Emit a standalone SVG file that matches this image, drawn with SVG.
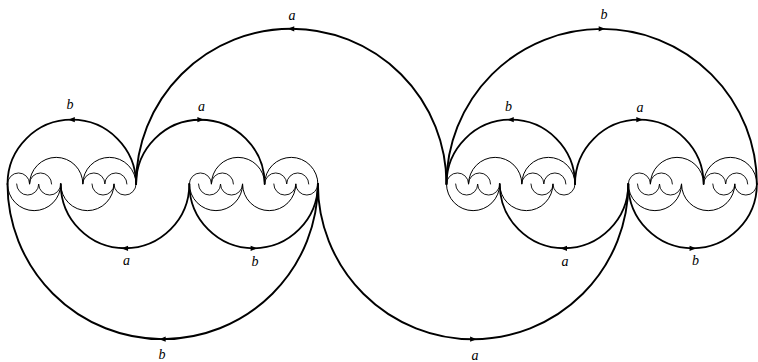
<svg xmlns="http://www.w3.org/2000/svg" width="758" height="362" viewBox="0 0 758 362">
<style>
.arc{fill:none;stroke:#000;stroke-linecap:round}
.k0{stroke-width:1.9}
.k1{stroke-width:1.8}
.k2{stroke-width:1}
.k3{stroke-width:0.9}
.tip{fill:#000;stroke:none}
.lbl{font-family:"Liberation Serif","DejaVu Serif",serif;font-style:italic;font-size:14px;fill:#000;text-anchor:middle}
</style>
<rect width="758" height="362" fill="#fff"/>
<g id="connectors">
<g id="level0" class="arc k0">
<path d="M7.5 184a155.2 155.2 0 0 0 310.4 0"/>
<path d="M317.9 184a155.2 155.2 0 0 0 310.4 0"/>
<path d="M136.07 184a155.2 155.2 0 0 1 310.4 0"/>
<path d="M446.47 184a155.2 155.2 0 0 1 310.4 0"/>
</g>
<g id="level1" class="arc k1">
<path d="M7.5 184a64.285 64.285 0 0 1 128.57 0"/>
<path d="M136.07 184a64.285 64.285 0 0 1 128.57 0"/>
<path d="M60.76 184a64.285 64.285 0 0 0 128.57 0"/>
<path d="M189.33 184a64.285 64.285 0 0 0 128.57 0"/>
<path d="M446.47 184a64.285 64.285 0 0 1 128.57 0"/>
<path d="M575.04 184a64.285 64.285 0 0 1 128.57 0"/>
<path d="M499.73 184a64.285 64.285 0 0 0 128.57 0"/>
<path d="M628.3 184a64.285 64.285 0 0 0 128.57 0"/>
</g>
<g id="level2" class="arc k2">
<path d="M7.5 184a26.63 26.63 0 0 0 53.26 0a26.63 26.63 0 0 0 53.26 0"/>
<path d="M29.56 184a26.63 26.63 0 0 1 53.26 0a26.63 26.63 0 0 1 53.26 0"/>
<path d="M189.33 184a26.63 26.63 0 0 0 53.26 0a26.63 26.63 0 0 0 53.26 0"/>
<path d="M211.39 184a26.63 26.63 0 0 1 53.26 0a26.63 26.63 0 0 1 53.26 0"/>
<path d="M446.47 184a26.63 26.63 0 0 0 53.26 0a26.63 26.63 0 0 0 53.26 0"/>
<path d="M468.53 184a26.63 26.63 0 0 1 53.26 0a26.63 26.63 0 0 1 53.26 0"/>
<path d="M628.3 184a26.63 26.63 0 0 0 53.26 0a26.63 26.63 0 0 0 53.26 0"/>
<path d="M650.36 184a26.63 26.63 0 0 1 53.26 0a26.63 26.63 0 0 1 53.26 0"/>
</g>
<g id="level3" class="arc k3">
<path d="M7.5 184a11.03 11.03 0 0 1 22.06 0a11.03 11.03 0 0 1 22.06 0M16.64 184a11.03 11.03 0 0 0 22.06 0a11.03 11.03 0 0 0 22.06 0"/>
<path d="M82.82 184a11.03 11.03 0 0 1 22.06 0a11.03 11.03 0 0 1 22.06 0M91.96 184a11.03 11.03 0 0 0 22.06 0a11.03 11.03 0 0 0 22.06 0"/>
<path d="M189.33 184a11.03 11.03 0 0 1 22.06 0a11.03 11.03 0 0 1 22.06 0M198.47 184a11.03 11.03 0 0 0 22.06 0a11.03 11.03 0 0 0 22.06 0"/>
<path d="M264.65 184a11.03 11.03 0 0 1 22.06 0a11.03 11.03 0 0 1 22.06 0M273.79 184a11.03 11.03 0 0 0 22.06 0a11.03 11.03 0 0 0 22.06 0"/>
<path d="M446.47 184a11.03 11.03 0 0 1 22.06 0a11.03 11.03 0 0 1 22.06 0M455.61 184a11.03 11.03 0 0 0 22.06 0a11.03 11.03 0 0 0 22.06 0"/>
<path d="M521.79 184a11.03 11.03 0 0 1 22.06 0a11.03 11.03 0 0 1 22.06 0M530.93 184a11.03 11.03 0 0 0 22.06 0a11.03 11.03 0 0 0 22.06 0"/>
<path d="M628.3 184a11.03 11.03 0 0 1 22.06 0a11.03 11.03 0 0 1 22.06 0M637.44 184a11.03 11.03 0 0 0 22.06 0a11.03 11.03 0 0 0 22.06 0"/>
<path d="M703.62 184a11.03 11.03 0 0 1 22.06 0a11.03 11.03 0 0 1 22.06 0M712.76 184a11.03 11.03 0 0 0 22.06 0a11.03 11.03 0 0 0 22.06 0"/>
</g>
<g id="arrowheads" class="tip">
<path d="M287.77 28.8l6.5 -2.6v5.2z"/>
<path d="M605.17 28.8l-6.5 -2.6v5.2z"/>
<path d="M159.2 339.2l6.5 -2.6v5.2z"/>
<path d="M476.6 339.2l-6.5 -2.6v5.2z"/>
<path d="M68.29 119.7l6.5 -2.6v5.2z"/>
<path d="M203.86 119.7l-6.5 -2.6v5.2z"/>
<path d="M121.55 248.3l6.5 -2.6v5.2z"/>
<path d="M257.12 248.3l-6.5 -2.6v5.2z"/>
<path d="M507.26 119.7l6.5 -2.6v5.2z"/>
<path d="M642.83 119.7l-6.5 -2.6v5.2z"/>
<path d="M560.52 248.3l6.5 -2.6v5.2z"/>
<path d="M696.09 248.3l-6.5 -2.6v5.2z"/>
</g>
</g>
<g id="labels" class="lbl">
<text x="292" y="20">a</text>
<text x="604" y="18.5">b</text>
<text x="70" y="108.5">b</text>
<text x="201.5" y="111">a</text>
<text x="126.5" y="264.5">a</text>
<text x="255" y="266">b</text>
<text x="162" y="359">b</text>
<text x="475" y="359.5">a</text>
<text x="508.5" y="111">b</text>
<text x="640" y="111.5">a</text>
<text x="565" y="266">a</text>
<text x="695.5" y="265">b</text>
</g>
</svg>
